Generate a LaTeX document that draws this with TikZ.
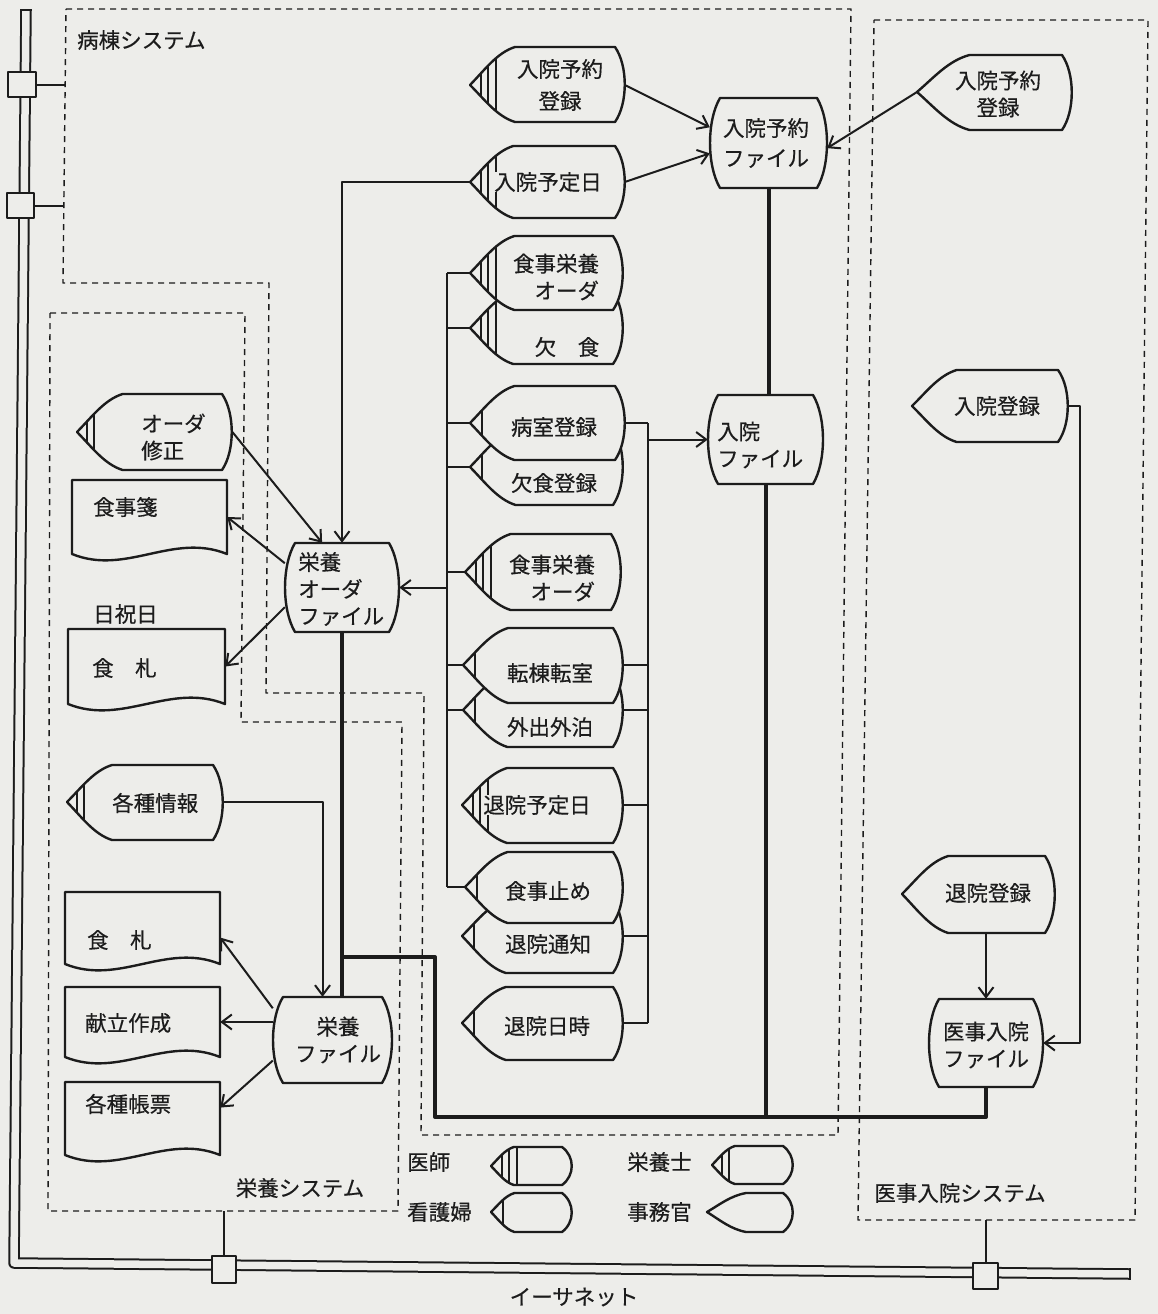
\documentclass[tikz,border=0pt]{standalone}
\usepackage{fontspec}
\setmainfont{Noto Sans CJK JP}[FakeBold=0.4]
\usetikzlibrary{arrows.meta,calc}
\definecolor{paper}{RGB}{237,237,234}
\definecolor{ink}{RGB}{28,28,28}

% display shape: #1 name, #2 tip x, #3 top y, #4 bottom y, #5 right corner x, #6 number of lines, #7 tip y, #8 curve factor
\newcommand\dshape[8]{%
  \pgfmathsetmacro\zzC{#7}%
  \pgfmathsetmacro\zzA{#8*(#4-#3)}%
  \pgfmathsetmacro\zzHt{#7-#3}%
  \pgfmathsetmacro\zzHb{#4-#7}%
  \pgfmathsetmacro\zzQ{0.25*(#4-#3)}%
  \def\zzpath{(#2,\zzC) .. controls ({#2+0.33*\zzA},{\zzC-0.4*\zzHt}) and ({#2+0.6*\zzA},{#3+0.15*\zzHt}) .. ({#2+\zzA},#3) -- (#5,#3) .. controls ({#5+13},{#3+\zzQ}) and ({#5+13},{#4-\zzQ}) .. (#5,#4) -- ({#2+\zzA},#4) .. controls ({#2+0.6*\zzA},{#4-0.15*\zzHb}) and ({#2+0.33*\zzA},{\zzC+0.4*\zzHb}) .. (#2,\zzC) -- cycle}%
  \fill[paper] \zzpath;
  \begin{scope}
    \clip \zzpath;
    \ifnum#6=1 \draw[inner line] ({#2+12},#3) -- ({#2+12},#4);\fi
    \ifnum#6=2 \draw[inner line] ({#2+10},#3) -- ({#2+10},#4); \draw[inner line] ({#2+17},#3) -- ({#2+17},#4);\fi
    \ifnum#6=3 \draw[inner line] ({#2+11},#3) -- ({#2+11},#4); \draw[inner line] ({#2+18},#3) -- ({#2+18},#4); \draw[inner line] ({#2+26},#3) -- ({#2+26},#4);\fi
  \end{scope}
  \draw[shapeline] \zzpath;
  \pgfmathsetmacro\zzW{#5+10-#2}%
  \pgfmathsetmacro\zzHH{#4-#3}%
  \node[inner sep=0pt, minimum width=\zzW pt, minimum height=\zzHH pt, anchor=west] (#1) at (#2,\zzC) {};
  \coordinate (#1-tip) at (#2,\zzC);
  \coordinate (#1-r) at ({#5+9.75},\zzC);
}

% file (barrel) shape: #1 name, #2 left x, #3 right x, #4 top y, #5 bottom y
\newcommand\barrel[5]{%
  \pgfmathsetmacro\zzQ{0.25*(#5-#4)}%
  \draw[shapeline, fill=paper] ({#2+10},#4) -- ({#3-10},#4) .. controls ({#3+3.3},{#4+\zzQ}) and ({#3+3.3},{#5-\zzQ}) .. ({#3-10},#5) -- ({#2+10},#5) .. controls ({#2-3.3},{#5-\zzQ}) and ({#2-3.3},{#4+\zzQ}) .. cycle;
  \pgfmathsetmacro\zzW{#3-#2}%
  \pgfmathsetmacro\zzHH{#5-#4}%
  \node[inner sep=0pt, minimum width=\zzW pt, minimum height=\zzHH pt] (#1) at ({(#2+#3)/2},{(#4+#5)/2}) {};
}

% document shape: #1 name, #2 left x, #3 right x, #4 top y, #5 bottom y
\newcommand\docshape[5]{%
  \pgfmathsetmacro\zzW{#3-#2}%
  \draw[shapeline, fill=paper] (#2,#4) -- (#3,#4) -- (#3,#5) .. controls ({#3-0.35*\zzW},{#5-22}) and ({#2+0.35*\zzW},{#5+22}) .. (#2,#5) -- cycle;
  \pgfmathsetmacro\zzHH{#5-#4}%
  \node[inner sep=0pt, minimum width=\zzW pt, minimum height=\zzHH pt] (#1) at ({(#2+#3)/2},{(#4+#5)/2}) {};
}

\begin{document}
\begin{tikzpicture}[x=1pt,y=-1pt, line join=round,
  shapeline/.style={draw=ink,line width=2.4pt},
  inner line/.style={draw=ink,line width=2.1pt},
  conn/.style={draw=ink,line width=2pt},
  arr/.style={conn,-{Straight Barb[length=10pt,width=15pt]}},
  bus/.style={draw=ink,line width=4pt},
  box/.style={draw=ink,line width=1.4pt,dash pattern=on 6pt off 5pt},
  lbl/.style={inner sep=0pt, font=\fontsize{21.5}{27}\selectfont, text=ink},
  tap/.style={draw=ink, fill=paper, line width=2pt, inner sep=0pt}]

\useasboundingbox (0,0) rectangle (1158,1314);
\fill[paper] (0,0) rectangle (1158,1314);

% system boundaries
\draw[box] (66,9) -- (851,9) -- (838,1135) -- (421,1135) -- (424,693) -- (266,693) -- (269,283) -- (63,283) -- cycle;
\draw[box] (50,313) -- (245,313) -- (241,722) -- (402,722) -- (398,1211) -- (48,1211) -- cycle;
\draw[box] (874,20) -- (1148,20) -- (1135,1220) -- (858,1220) -- cycle;

% ethernet
\draw[draw=ink, line width=2pt, double=paper, double distance=7.5pt] (26,10) -- (14,1263) -- (1130,1274);
\draw[draw=ink, line width=2pt] (20.2,10) -- (31.8,10);
\draw[draw=ink, line width=2pt] (1130,1268.2) -- (1130,1279.8);
\node[tap, minimum width=28pt, minimum height=25pt] (tap1) at (22,84.5) {};
\node[tap, minimum width=27pt, minimum height=25pt] (tap2) at (20.5,205.5) {};
\node[tap, minimum width=24pt, minimum height=27pt] (tap3) at (224,1269.5) {};
\node[tap, minimum width=25pt, minimum height=26pt] (tap4) at (985.5,1276) {};
\coordinate (b1) at (66,84.5);
\coordinate (b2) at (64,205.5);
\coordinate (b3) at (224,1211);
\coordinate (b4) at (985.5,1220);
\draw[conn] (tap1.east) -- (b1);
\draw[conn] (tap2.east) -- (b2);
\draw[conn] (tap3.north) -- (b3);
\draw[conn] (tap4.north) -- (b4);

% ward system displays
\dshape{yrL}{470}{47}{122}{615}{3}{85}{0.6}
\dshape{ytb}{470}{146}{218}{615}{3}{182}{0.6}
\dshape{ks}{470}{292}{364}{613}{3}{328}{0.6}
\dshape{sy1}{470}{236}{310}{613}{3}{273}{0.6}
\dshape{ksr}{470}{429}{505}{613}{1}{467}{0.6}
\dshape{bsr}{470}{386}{460}{615}{1}{423}{0.6}
\dshape{sy2}{465}{534}{610}{611}{3}{572}{0.6}
\dshape{gs}{463}{673}{747}{613}{1}{710}{0.6}
\dshape{tt}{463}{628}{703}{613}{1}{665}{0.6}
\dshape{tyt}{462}{768}{843}{613}{3}{805}{0.6}
\dshape{ttc}{462}{900}{973}{613}{1}{936}{0.6}
\dshape{sst}{465}{852}{923}{613}{1}{887}{0.6}
\dshape{tnj}{462}{987}{1060}{613}{1}{1023}{0.6}

% nutrition system displays
\dshape{os}{77}{394}{470}{222}{2}{432}{0.6}
\dshape{kj}{67}{765}{840}{213}{2}{802}{0.6}

% medical admin displays
\dshape{yrR}{917}{55}{130}{1062}{0}{92}{0.7}
\dshape{nt}{912}{370}{442}{1058}{0}{406}{0.62}
\dshape{tt2}{902}{856}{933}{1045}{0}{894}{0.6}

% legend shapes
\dshape{lg1}{491}{1147}{1185}{562}{3}{1166}{0.6}
\dshape{lg2}{491}{1193}{1232}{562}{1}{1212}{0.6}
\dshape{lg3}{712}{1146}{1184}{783}{2}{1165}{0.6}
\dshape{lg4}{707}{1193}{1232}{783}{0}{1212}{1.0}

% files
\barrel{yrF}{710}{827}{98}{188}
\barrel{nyF}{708}{823}{395}{484}
\barrel{eoF}{285}{399}{543}{632}
\barrel{eiF}{273}{392}{997}{1083}
\barrel{ijF}{929}{1043}{999}{1087}

% documents
\docshape{sjs}{72}{227}{480}{554}
\docshape{ss1}{68}{225}{629}{704}
\docshape{ss2}{65}{220}{892}{964}
\docshape{kd}{65}{220}{987}{1057}
\docshape{kc}{65}{220}{1082}{1155}

% texts
\node[lbl, align=center] (t-yrL) at (560,85) {入院予約\\[5pt]登録};
\node[lbl, fill=paper] (t-ytb) at (548,182) {入院予定日};
\node[lbl, align=right] (t-sy1) at (556,277) {食事栄養\\オーダ};
\node[lbl] (t-ks) at (567,347) {欠　食};
\node[lbl] (t-bsr) at (554,427) {病室登録};
\node[lbl] (t-ksr) at (554,483) {欠食登録};
\node[lbl, align=right] (t-sy2) at (552,578) {食事栄養\\オーダ};
\node[lbl] (t-tt) at (550,673) {転棟転室};
\node[lbl] (t-gs) at (550,727) {外出外泊};
\node[lbl, fill=paper] (t-tyt) at (537,805) {退院予定日};
\node[lbl] (t-sst) at (548,891) {食事止め};
\node[lbl] (t-ttc) at (548,944) {退院通知};
\node[lbl] (t-tnj) at (547,1026) {退院日時};

\node[lbl, align=center] (t-yrF) at (766,143) {入院予約\\[3pt]ファイル};
\node[lbl, align=left, anchor=west] (t-nyF) at (717,445) {入院\\ファイル};
\node[lbl, align=left, anchor=west] (t-eoF) at (298,589) {栄養\\オーダ\\ファイル};
\node[lbl, align=center] (t-eiF) at (338,1040) {栄養\\ファイル};
\node[lbl, align=center] (t-ijF) at (986,1045) {医事入院\\ファイル};

\node[lbl, anchor=west] (t-sjs) at (93,507) {食事箋};
\node[lbl, anchor=west] (t-hol) at (93,614) {日祝日};
\node[lbl, anchor=west] (t-ss1) at (92,668) {食　札};
\node[lbl, anchor=west] (t-ss2) at (87,940) {食　札};
\node[lbl, anchor=west] (t-kd) at (85,1023) {献立作成};
\node[lbl, anchor=west] (t-kc) at (85,1104) {各種帳票};
\node[lbl, align=left, anchor=west] (t-os) at (141,437) {オーダ\\修正};
\node[lbl, anchor=west] (t-kj) at (112,803) {各種情報};

\node[lbl, align=center] (t-yrR) at (998,94) {入院予約\\登録};
\node[lbl] (t-nt) at (997,406) {入院登録};
\node[lbl] (t-tt2) at (988,893) {退院登録};

\node[lbl, anchor=west] (l1) at (407,1162) {医師};
\node[lbl, anchor=west] (l2) at (407,1212) {看護婦};
\node[lbl, anchor=west] (l3) at (627,1162) {栄養士};
\node[lbl, anchor=west] (l4) at (627,1212) {事務官};

\node[lbl, anchor=west] (sys1) at (77,40) {病棟システム};
\node[lbl] (sys2) at (300,1188) {栄養システム};
\node[lbl] (sys3) at (960,1193) {医事入院システム};
\node[lbl] (eth) at (574,1297) {イーサネット};

% connectors: left bus
\coordinate (lbus) at (447,0);
\coordinate (rbus) at (648,0);
\foreach \s in {sy1,ks,bsr,ksr,sy2,tt,gs,sst} \draw[conn] (\s-tip) -- (\s-tip -| lbus);
\draw[conn] (sy1-tip -| lbus) -- (sst-tip -| lbus);
\draw[arr] (eoF.east -| lbus) -- (eoF.east);

% right bus
\foreach \s in {bsr,tt,gs,tyt,ttc,tnj} \draw[conn] (\s-r) -- (\s-r -| rbus);
\draw[conn] (bsr-r -| rbus) -- (tnj-r -| rbus);
\draw[arr] (nyF.west -| rbus) -- (nyF.west);

% top arrows
\draw[arr] (yrL-r) -- (yrF.165);
\draw[arr] (ytb-r) -- (yrF.190);
\draw[arr] (yrR-tip) -- (yrF.355);
\draw[arr] (ytb-tip) -| (eoF.north);

% thick data bus
\coordinate (tj) at (0,957);
\coordinate (tbl) at (435,1117);
\draw[bus] (yrF.south) -- (yrF.south |- nyF.north);
\draw[bus] (eoF.south) -- (eoF.south |- eiF.north);
\draw[bus] (eoF.south |- tj) -| (tbl) -| (ijF.south);
\draw[bus] (nyF.south) -- (nyF.south |- tbl);

% nutrition arrows
\draw[arr] (os.east) -- (eoF.114);
\draw[arr] (eoF.157) -- (sjs.east);
\draw[arr] (eoF.199) -- (ss1.east);
\draw[arr] (kj.east) -| (eiF.103);
\draw[arr] (eiF.152) -- (ss2.353);
\draw[arr] (eiF.west |- kd.east) -- (kd.east);
\draw[arr] (eiF.199) -- (kc.8);

% medical admin arrows
\coordinate (rx) at (1080,0);
\draw[arr] (nt.east) -- (nt.east -| rx) |- (ijF.east);
\draw[arr] (ijF.north |- tt2.south) -- (ijF.north);

\end{tikzpicture}
\end{document}
